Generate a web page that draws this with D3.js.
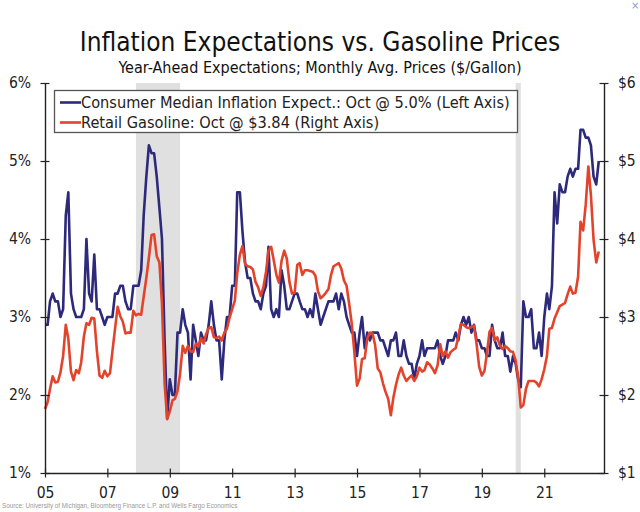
<!DOCTYPE html>
<html>
<head>
<meta charset="utf-8">
<script src="https://cdn.jsdelivr.net/npm/d3@7"></script>
<style>
  html, body { margin: 0; padding: 0; background: #fff; }
  svg { display: block; }
</style>
</head>
<body>
<svg id="chart" width="640" height="512"></svg>
<script>
// ---------------- DATA ----------------
const title = "Inflation Expectations vs. Gasoline Prices";
const subtitle = "Year-Ahead Expectations; Monthly Avg. Prices ($/Gallon)";
const source = "Source: University of Michigan, Bloomberg Finance L.P. and Wells Fargo Economics";
const seriesNames = [
  "Consumer Median Inflation Expect.: Oct @ 5.0% (Left Axis)",
  "Retail Gasoline: Oct @ $3.84 (Right Axis)"
];
const firstMonth = [2005, 0];   // Jan 2005, monthly data
// University of Michigan year-ahead median inflation expectations (%)
const inflationExpect = [
  2.9,2.9,3.2,3.3,3.2,3.2,3.0,3.1,4.3,4.6,3.3,3.1,   // 2005
  3.0,3.0,3.0,3.1,4.0,3.3,3.2,3.8,3.1,3.1,3.0,2.9,   // 2006
  3.0,3.0,3.0,3.3,3.3,3.4,3.4,3.2,3.1,3.1,3.4,3.4,   // 2007
  3.4,3.6,4.3,4.8,5.2,5.1,5.1,4.8,4.4,4.0,2.7,1.7,   // 2008
  2.2,2.0,2.0,2.8,2.8,3.1,2.9,2.8,2.2,2.9,2.7,2.5,   // 2009
  2.8,2.7,2.7,2.9,3.2,2.9,2.7,2.7,2.2,2.7,3.0,3.0,   // 2010
  3.4,3.4,4.6,4.6,4.1,3.7,3.5,3.5,3.3,3.2,3.2,3.1,   // 2011
  3.3,3.4,3.9,3.1,3.0,3.1,3.0,3.6,3.4,3.1,3.1,3.2,   // 2012
  3.3,3.3,3.2,3.1,3.1,3.0,3.1,3.0,3.3,3.1,2.9,3.0,   // 2013
  3.1,3.2,3.2,3.2,3.3,3.1,3.3,3.2,3.0,2.9,2.8,2.8,   // 2014
  2.5,2.8,3.0,2.6,2.8,2.7,2.8,2.8,2.8,2.7,2.7,2.6,   // 2015
  2.5,2.7,2.7,2.8,2.5,2.5,2.7,2.5,2.4,2.4,2.2,2.4,   // 2016
  2.5,2.7,2.5,2.6,2.6,2.6,2.6,2.7,2.5,2.4,2.5,2.7,   // 2017
  2.7,2.7,2.8,2.7,2.9,3.0,2.9,3.0,2.8,2.9,2.7,2.7,   // 2018
  2.6,2.6,2.5,2.5,2.9,2.7,2.6,2.6,2.8,2.5,2.5,2.3,   // 2019
  2.5,2.4,2.2,2.1,3.2,3.0,3.0,3.1,2.6,2.6,2.8,2.5,   // 2020
  3.0,3.3,3.1,3.4,4.6,4.2,4.7,4.6,4.6,4.8,4.9,4.8,   // 2021
  4.9,4.9,5.4,5.4,5.3,5.3,5.2,4.8,4.7,5.0            // 2022
];
// Retail gasoline, monthly average ($/gallon)
const gasPrice = [
  1.82,1.91,2.08,2.24,2.16,2.17,2.29,2.50,2.90,2.72,2.30,2.19,   // 2005
  2.32,2.28,2.42,2.75,2.92,2.90,2.99,2.98,2.56,2.25,2.22,2.31,   // 2006
  2.24,2.28,2.56,2.85,3.13,3.01,2.94,2.79,2.80,2.80,3.08,3.02,   // 2007
  3.04,3.03,3.26,3.50,3.76,4.05,4.06,3.78,3.70,3.17,2.15,1.69,   // 2008
  1.79,1.93,1.95,2.05,2.27,2.63,2.54,2.63,2.56,2.55,2.66,2.62,   // 2009
  2.73,2.66,2.78,2.86,2.87,2.74,2.73,2.75,2.70,2.80,2.85,2.99,   // 2010
  3.10,3.21,3.56,3.80,3.91,3.68,3.65,3.64,3.61,3.45,3.38,3.27,   // 2011
  3.38,3.58,3.85,3.90,3.73,3.54,3.44,3.72,3.85,3.75,3.45,3.30,   // 2012
  3.31,3.67,3.69,3.54,3.60,3.60,3.59,3.58,3.53,3.33,3.24,3.27,   // 2013
  3.31,3.36,3.53,3.65,3.67,3.69,3.62,3.47,3.40,3.17,2.91,2.55,   // 2014
  2.12,2.21,2.46,2.47,2.72,2.80,2.79,2.64,2.34,2.29,2.15,2.04,   // 2015
  1.95,1.74,1.96,2.13,2.26,2.35,2.25,2.18,2.22,2.25,2.18,2.24,   // 2016
  2.35,2.30,2.32,2.42,2.39,2.34,2.28,2.38,2.65,2.50,2.56,2.48,   // 2017
  2.55,2.58,2.60,2.75,2.91,2.90,2.87,2.86,2.87,2.89,2.65,2.36,   // 2018
  2.25,2.31,2.53,2.81,2.86,2.70,2.74,2.63,2.59,2.63,2.60,2.56,   // 2019
  2.55,2.44,2.23,1.84,1.87,2.08,2.18,2.18,2.18,2.16,2.11,2.20,   // 2020
  2.33,2.50,2.85,2.86,2.98,3.06,3.14,3.16,3.18,3.29,3.39,3.30,   // 2021
  3.31,3.52,4.22,4.11,4.44,4.93,4.56,3.99,3.70,3.84             // 2022
];
const xDomain = ["2005-01-01", "2022-12-01"];
const yearTicks = [2005, 2007, 2009, 2011, 2013, 2015, 2017, 2019, 2021];
const leftTicks = [1, 2, 3, 4, 5, 6];
const rightTicks = [1, 2, 3, 4, 5, 6];
const recessions = [["2007-12-01", "2009-05-01"], ["2020-02-01", "2020-04-01"]];

// ---------------- DRAW ----------------
const W = 640, H = 512;
const plot = { left: 45, right: 604, top: 83, bottom: 473 };
const colBlue = "#2d2a7b", colRed = "#e4432b", axisCol = "#222";
const font = "'DejaVu Sans Condensed', 'DejaVu Sans', sans-serif";
const parse = d3.utcParse("%Y-%m-%d");

const svg = d3.select("#chart");
svg.append("rect").attr("width", W).attr("height", H).attr("fill", "#fff");

const x = d3.scaleUtc().domain(xDomain.map(parse)).range([plot.left, plot.right]);
const yL = d3.scaleLinear().domain([1, 6]).range([plot.bottom, plot.top]);
const yR = d3.scaleLinear().domain([1, 6]).range([plot.bottom, plot.top]);

const monthDate = i => new Date(Date.UTC(firstMonth[0], firstMonth[1] + i, 1));
const blueData = inflationExpect.map((v, i) => ({ d: monthDate(i), v }));
const redData = gasPrice.map((v, i) => ({ d: monthDate(i), v }));

// recession shading
svg.append("g").selectAll("rect").data(recessions).join("rect")
  .attr("x", d => x(parse(d[0])))
  .attr("width", d => x(parse(d[1])) - x(parse(d[0])))
  .attr("y", plot.top).attr("height", plot.bottom - plot.top)
  .attr("fill", "#e0e0e0");

// lines
svg.append("path").datum(blueData)
  .attr("fill", "none").attr("stroke", colBlue).attr("stroke-width", 2.6)
  .attr("stroke-linejoin", "round")
  .attr("d", d3.line().x(d => x(d.d)).y(d => yL(d.v)));
svg.append("path").datum(redData)
  .attr("fill", "none").attr("stroke", colRed).attr("stroke-width", 2.6)
  .attr("stroke-linejoin", "round")
  .attr("d", d3.line().x(d => x(d.d)).y(d => yR(d.v)));

// axes
const tk = 4.5;
function styleAxis(g, orient) {
  g.select(".domain").attr("stroke", axisCol).attr("stroke-width", 1.4);
  g.selectAll(".tick line").attr("stroke", axisCol).attr("stroke-width", 1.2);
  if (orient === "left") g.selectAll(".tick line").attr("x1", tk);
  if (orient === "right") g.selectAll(".tick line").attr("x1", -tk);
  if (orient === "bottom") g.selectAll(".tick line").attr("y1", -tk);
  g.selectAll(".tick text").attr("fill", "#222").style("font-family", font).style("font-size", "15.5px");
}
const gL = svg.append("g").attr("transform", `translate(${plot.left},0)`)
  .call(d3.axisLeft(yL).tickValues(leftTicks).tickFormat(d => d + "%")
    .tickSize(tk).tickSizeOuter(0).tickPadding(9.5));
styleAxis(gL, "left");
const gR = svg.append("g").attr("transform", `translate(${plot.right},0)`)
  .call(d3.axisRight(yR).tickValues(rightTicks).tickFormat(d => "$" + d)
    .tickSize(tk).tickSizeOuter(0).tickPadding(9.5));
styleAxis(gR, "right");
const gB = svg.append("g").attr("transform", `translate(0,${plot.bottom})`)
  .call(d3.axisBottom(x).tickValues(yearTicks.map(y => new Date(Date.UTC(y, 0, 1))))
    .tickFormat(d3.utcFormat("%y")).tickSize(tk).tickSizeOuter(0).tickPadding(9));
styleAxis(gB, "bottom");

// titles
svg.append("text").attr("x", 320).attr("y", 50.5).attr("text-anchor", "middle")
  .style("font-family", font).style("font-size", "26px").attr("fill", "#111").text(title);
svg.append("text").attr("x", 320).attr("y", 72.5).attr("text-anchor", "middle")
  .style("font-family", font).style("font-size", "16px").attr("fill", "#111").text(subtitle);

// legend
const lg = svg.append("g");
lg.append("rect").attr("x", 54.5).attr("y", 90.5).attr("width", 463).attr("height", 42)
  .attr("fill", "#fff").attr("stroke", "#555").attr("stroke-width", 1.3);
const legendItems = [{ name: seriesNames[0], col: colBlue }, { name: seriesNames[1], col: colRed }];
legendItems.forEach((it, i) => {
  const yy = 102.5 + i * 20;
  lg.append("line").attr("x1", 60).attr("x2", 81).attr("y1", yy).attr("y2", yy)
    .attr("stroke", it.col).attr("stroke-width", 2.6);
  lg.append("text").attr("x", 81).attr("y", yy + 5.5)
    .style("font-family", font).style("font-size", "16.2px").attr("fill", "#222").text(it.name);
});

// source
svg.append("text").attr("x", 2).attr("y", 508)
  .style("font-family", "'Liberation Sans', Arial, sans-serif").style("font-size", "6.3px")
  .attr("fill", "#999").text(source);
svg.append("text").attr("x", 631).attr("y", 9)
  .style("font-family", "'DejaVu Sans', sans-serif").style("font-size", "10px")
  .attr("fill", "#8a9ad0").text("×");
</script>
</body>
</html>
